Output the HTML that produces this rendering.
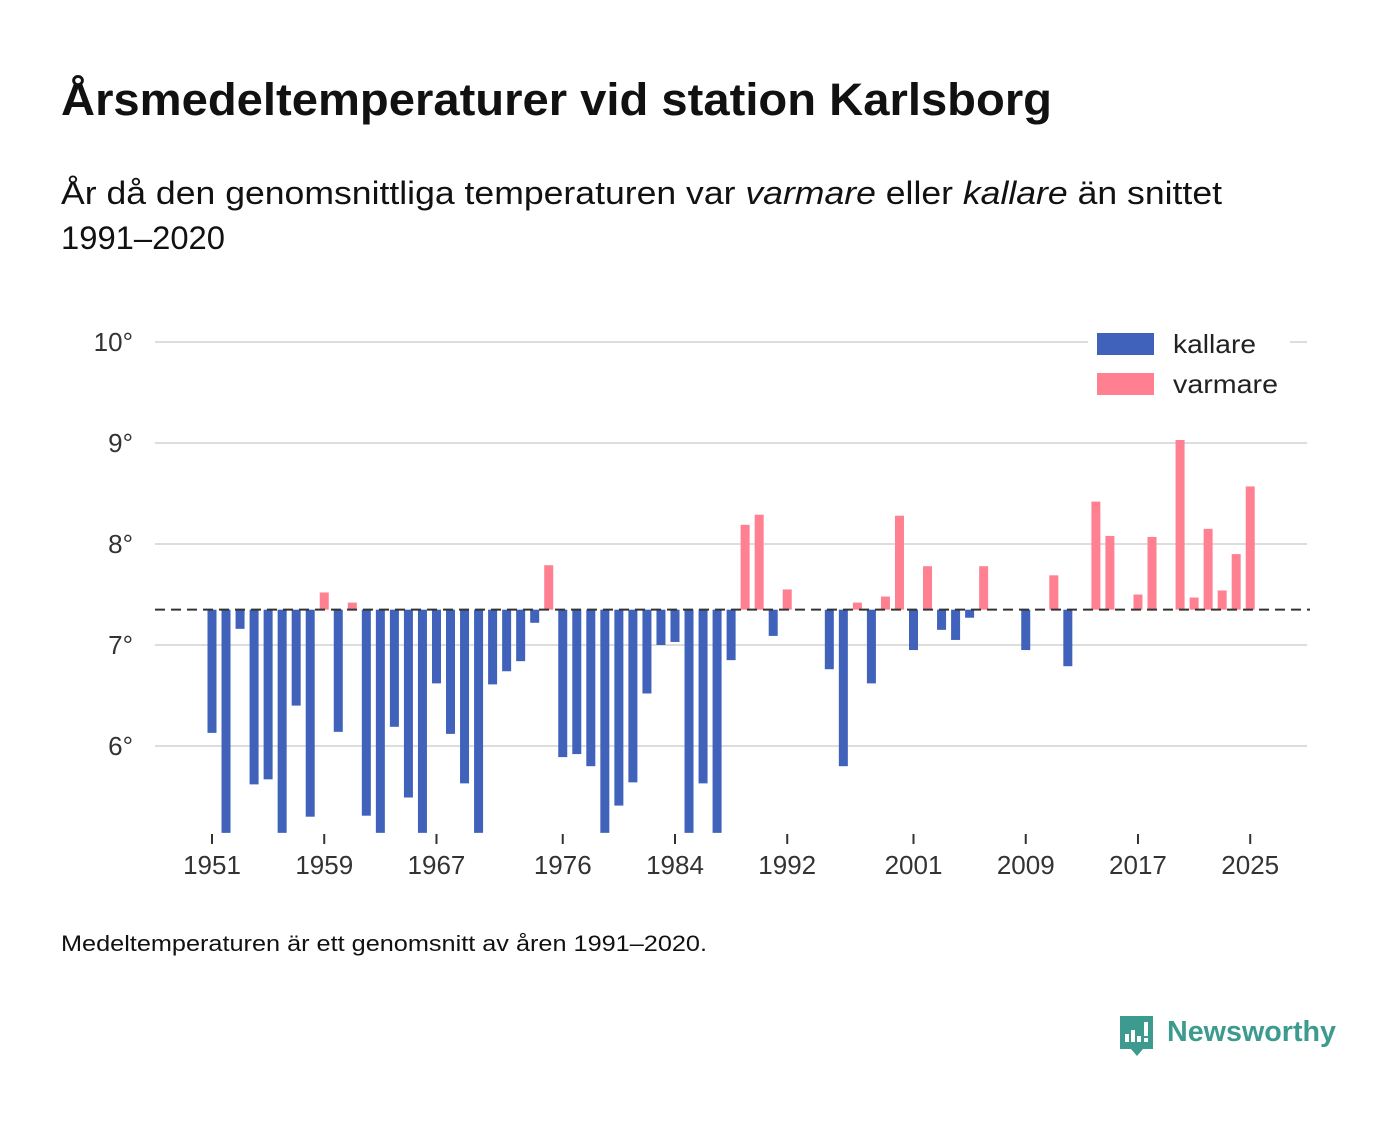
<!DOCTYPE html>
<html><head><meta charset="utf-8">
<style>
body{margin:0;background:#fff;width:1400px;height:1116px;overflow:hidden;font-family:"Liberation Sans","DejaVu Sans",sans-serif;}
svg text{font-family:"Liberation Sans","DejaVu Sans",sans-serif;}
</style></head>
<body>
<svg id="chart" width="1400" height="1116" xmlns="http://www.w3.org/2000/svg">
<text x="61" y="115" font-size="45" font-weight="bold" fill="#111" textLength="991" lengthAdjust="spacingAndGlyphs">Årsmedeltemperaturer vid station Karlsborg</text>
<text x="61" y="204" font-size="32" fill="#111" textLength="1161" lengthAdjust="spacingAndGlyphs">År då den genomsnittliga temperaturen var <tspan font-style="italic">varmare</tspan> eller <tspan font-style="italic">kallare</tspan> än snittet</text>
<text x="61" y="249" font-size="32" fill="#111" textLength="164" lengthAdjust="spacingAndGlyphs">1991–2020</text>
<g id="grid"></g>
<g id="bars"></g>
<g id="xaxis"></g>
<line id="avgline" stroke="#333" stroke-width="2" stroke-dasharray="10,6"/>
<g>
<rect x="1088" y="322" width="202" height="85" fill="#fff"/>
<rect x="1097" y="333" width="57" height="22" fill="#4062bb"/>
<text x="1173" y="353" font-size="26" fill="#222" textLength="83" lengthAdjust="spacingAndGlyphs">kallare</text>
<rect x="1097" y="373" width="57" height="22" fill="#ff8090"/>
<text x="1173" y="393" font-size="26" fill="#222" textLength="105" lengthAdjust="spacingAndGlyphs">varmare</text>
</g>
<text x="61" y="951" font-size="22" fill="#111" textLength="646" lengthAdjust="spacingAndGlyphs">Medeltemperaturen är ett genomsnitt av åren 1991–2020.</text>
<g>
<path d="M1120 1016 h33 v33 h-10 l-6 7 l-6 -7 h-11 z" fill="#3d9a8f"/>
<rect x="1125" y="1034" width="4" height="8" fill="#fff"/><rect x="1131" y="1030" width="4" height="12" fill="#fff"/><rect x="1137" y="1036" width="4" height="6" fill="#fff"/><rect x="1144" y="1022" width="4" height="14" fill="#fff"/><rect x="1144" y="1038" width="4" height="4" fill="#fff"/>
<text x="1167" y="1041" font-size="29" font-weight="bold" fill="#3d9a8f" textLength="169" lengthAdjust="spacingAndGlyphs">Newsworthy</text>
</g>
</svg>
<script>
const years=[1951,1952,1953,1954,1955,1956,1957,1958,1959,1960,1961,1962,1963,1964,1965,1966,1967,1968,1969,1970,1971,1972,1973,1974,1975,1976,1977,1978,1979,1980,1981,1982,1983,1984,1985,1986,1987,1988,1989,1990,1991,1992,1995,1996,1997,1998,1999,2000,2001,2002,2003,2004,2005,2006,2009,2011,2012,2014,2015,2017,2018,2020,2021,2022,2023,2024,2025];
const temps=[6.13,5.0,7.16,5.62,5.67,5.0,6.40,5.30,7.52,6.14,7.42,5.31,5.0,6.19,5.49,5.0,6.62,6.12,5.63,5.0,6.61,6.74,6.84,7.22,7.79,5.89,5.92,5.80,5.0,5.41,5.64,6.52,7.00,7.03,5.0,5.63,5.0,6.85,8.19,8.29,7.09,7.55,6.76,5.80,7.42,6.62,7.48,8.28,6.95,7.78,7.15,7.05,7.27,7.78,6.95,7.69,6.79,8.42,8.08,7.50,8.07,9.03,7.47,8.15,7.54,7.90,8.57];
const average=7.35;
const yTicks=[6,7,8,9,10];
const xTicks=[1951,1959,1967,1976,1984,1992,2001,2009,2017,2025];
const yMin=5.14;
const NS="http://www.w3.org/2000/svg";
const y=v=>645-(v-7)*101;
const x=yr=>212+(yr-1951)*14.03;
function mk(t,a,p){const e=document.createElementNS(NS,t);for(const k in a)e.setAttribute(k,a[k]);p.appendChild(e);return e;}
const grid=document.getElementById('grid');
yTicks.forEach(t=>{
  const l=mk('line',{x1:155,x2:1307,y1:y(t),y2:y(t),stroke:'#ddd','stroke-width':2},grid);
  
  
  const tx=mk('text',{x:133,y:y(t)+9,'font-size':26,fill:'#333','text-anchor':'end'},grid);
  tx.textContent=t+'°';
  
  
});
const bars=document.getElementById('bars');
years.forEach((yr,i)=>{
  const v=Math.max(temps[i],yMin);
  const top=Math.min(y(v),y(average)), bot=Math.max(y(v),y(average));
  const r=mk('rect',{x:x(yr)-4.5,y:top,width:9,height:bot-top,fill:temps[i]>average?'#ff8090':'#4062bb'},bars);
  
  
});
const xa=document.getElementById('xaxis');
xTicks.forEach(t=>{
  const l=mk('line',{x1:x(t),x2:x(t),y1:834,y2:844,stroke:'#333','stroke-width':2},xa);
  
  
  const tx=mk('text',{x:x(t),y:874,'font-size':26,fill:'#333','text-anchor':'middle'},xa);
  tx.textContent=t;
  
  
});
const al=document.getElementById('avgline');
al.setAttribute('x1',155);al.setAttribute('x2',1310);
al.setAttribute('y1',y(average));al.setAttribute('y2',y(average));
</script>
</body></html>
